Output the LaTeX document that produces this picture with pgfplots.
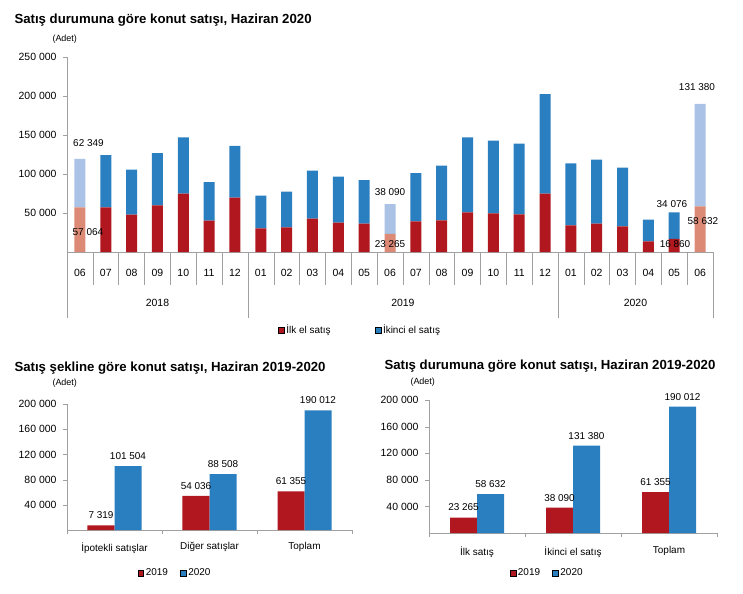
\documentclass[border=0pt]{standalone}
\usepackage{fontspec}
\setmainfont{Liberation Sans}
\usepackage{pgfplots}
\pgfplotsset{compat=1.18}
\usepackage{pgfplotstable}

\definecolor{ilk}{HTML}{B0171F}
\definecolor{ikinci}{HTML}{2A7FC1}
\definecolor{ilkacik}{HTML}{DC8A76}
\definecolor{ikinciacik}{HTML}{A9C2E6}
\definecolor{eksen}{HTML}{A0A0A0}

% aylik satislar: ilk el (r), ikinci el (b); haziran aylari ayri (lr, lb)
\pgfplotstableread{
x  r      lr     b       lb
0  0      57064  0       62349
1  57200  0      67100   0
2  47800  0      57700   0
3  59800  0      67000   0
4  74700  0      72300   0
5  40100  0      49600   0
6  69600  0      66600   0
7  30300  0      41900   0
8  31600  0      45700   0
9  42700  0      61500   0
10 37600  0      58900   0
11 36300  0      55900   0
12 0      23265  0       38090
13 39300  0      61900   0
14 40600  0      70000   0
15 50800  0      96200   0
16 49600  0      93100   0
17 48300  0      90500   0
18 74700  0      127800  0
19 34200  0      79400   0
20 36300  0      82100   0
21 32900  0      75200   0
22 13700  0      27700   0
23 16860  0      34076   0
24 0      58632  0       131380
}\aylik

\pgfplotstableread{
x y2019 y2020
0 7319  101504
1 54036 88508
2 61355 190012
}\sekil

\pgfplotstableread{
x y2019 y2020
0 23265 58632
1 38090 131380
2 61355 190012
}\durum

\pgfplotsset{
  konut/.style={
    scale only axis,
    axis x line*=bottom, axis y line*=left,
    axis line style={eksen},
    tick align=outside,
    major tick length=4bp,
    ytick style={eksen},
    xtick style={draw=none},
    scaled y ticks=false,
    ymin=0,
    /pgf/number format/.cd, fixed, precision=0, 1000 sep={\ }, assume math mode=true, /pgfplots/.cd,
    tick label style={font=\fontsize{10.5}{12}\selectfont},
    yticklabel style={xshift=-3bp},
    legend style={draw=none, fill=none, font=\fontsize{10}{12}\selectfont, anchor=center},
    legend image post style={xscale=0.35},
    legend columns=2,
    clip=false,
  },
  ustgeo/.style={
    scale only axis, at={(67bp,-252bp)}, anchor=south west,
    width=646bp, height=195bp,
    xmin=-0.5, xmax=24.5, ymin=0, ymax=250000,
    ybar stacked, bar width=11bp,
  },
}

\begin{document}
\begin{tikzpicture}
\useasboundingbox (0,0) rectangle (743bp,-594bp);

% ---------- ust grafik ----------
\node[anchor=west, font=\bfseries\fontsize{13.25}{15}\selectfont] at (11bp,-20bp) {Satış durumuna göre konut satışı, Haziran 2020};
\node[anchor=west, font=\fontsize{9}{11}\selectfont] at (49bp,-39bp) {(Adet)};

\begin{axis}[konut, ustgeo,
  ytick={50000,100000,150000,200000,250000},
  xtick={0,...,24},
  xticklabels={06,07,08,09,10,11,12,01,02,03,04,05,06,07,08,09,10,11,12,01,02,03,04,05,06},
  xticklabel style={yshift=-10bp},
  legend style={at={(0.4536,-0.4)}, /tikz/every even column/.append style={column sep=42bp}},
]
\addplot[fill=ilk, draw=none, area legend] table[x=x, y=r] {\aylik};
\addlegendentry{İlk el satış}
\addplot[fill=ikinci, draw=none, area legend] table[x=x, y=b] {\aylik};
\addlegendentry{İkinci el satış}

\draw[eksen] (axis cs:-0.5,0) -- ++(0bp,-66bp);
\draw[eksen] (axis cs:0.5,0) -- ++(0bp,-33bp);
\draw[eksen] (axis cs:1.5,0) -- ++(0bp,-33bp);
\draw[eksen] (axis cs:2.5,0) -- ++(0bp,-33bp);
\draw[eksen] (axis cs:3.5,0) -- ++(0bp,-33bp);
\draw[eksen] (axis cs:4.5,0) -- ++(0bp,-33bp);
\draw[eksen] (axis cs:5.5,0) -- ++(0bp,-33bp);
\draw[eksen] (axis cs:6.5,0) -- ++(0bp,-66bp);
\draw[eksen] (axis cs:7.5,0) -- ++(0bp,-33bp);
\draw[eksen] (axis cs:8.5,0) -- ++(0bp,-33bp);
\draw[eksen] (axis cs:9.5,0) -- ++(0bp,-33bp);
\draw[eksen] (axis cs:10.5,0) -- ++(0bp,-33bp);
\draw[eksen] (axis cs:11.5,0) -- ++(0bp,-33bp);
\draw[eksen] (axis cs:12.5,0) -- ++(0bp,-33bp);
\draw[eksen] (axis cs:13.5,0) -- ++(0bp,-33bp);
\draw[eksen] (axis cs:14.5,0) -- ++(0bp,-33bp);
\draw[eksen] (axis cs:15.5,0) -- ++(0bp,-33bp);
\draw[eksen] (axis cs:16.5,0) -- ++(0bp,-33bp);
\draw[eksen] (axis cs:17.5,0) -- ++(0bp,-33bp);
\draw[eksen] (axis cs:18.5,0) -- ++(0bp,-66bp);
\draw[eksen] (axis cs:19.5,0) -- ++(0bp,-33bp);
\draw[eksen] (axis cs:20.5,0) -- ++(0bp,-33bp);
\draw[eksen] (axis cs:21.5,0) -- ++(0bp,-33bp);
\draw[eksen] (axis cs:22.5,0) -- ++(0bp,-33bp);
\draw[eksen] (axis cs:23.5,0) -- ++(0bp,-33bp);
\draw[eksen] (axis cs:24.5,0) -- ++(0bp,-66bp);
\node[font=\fontsize{10.5}{12}\selectfont] at (axis cs:3,0) [yshift=-51bp] {2018};
\node[font=\fontsize{10.5}{12}\selectfont] at (axis cs:12.5,0) [yshift=-51bp] {2019};
\node[font=\fontsize{10.5}{12}\selectfont] at (axis cs:21.5,0) [yshift=-51bp] {2020};
\end{axis}

% haziran aylari (acik renkler)
\begin{axis}[ustgeo, hide axis, clip=false]
\addplot[fill=ilkacik, draw=none] table[x=x, y=lr] {\aylik};
\addplot[fill=ikinciacik, draw=none] table[x=x, y=lb] {\aylik};
\end{axis}

% veri etiketleri (cubuklarin ustunde)
\begin{axis}[ustgeo, hide axis, clip=false]
\node[font=\fontsize{10}{12}\selectfont] at (axis cs:0.33,139700) {62\ 349};
\node[font=\fontsize{10}{12}\selectfont] at (axis cs:0.31,25600) {57\ 064};
\node[font=\fontsize{10}{12}\selectfont] at (axis cs:12.0,76900) {38\ 090};
\node[font=\fontsize{10}{12}\selectfont] at (axis cs:12.0,10250) {23\ 265};
\node[font=\fontsize{10}{12}\selectfont] at (axis cs:23.88,211500) {131\ 380};
\node[font=\fontsize{10}{12}\selectfont] at (axis cs:24.11,39700) {58\ 632};
\node[font=\fontsize{10}{12}\selectfont] at (axis cs:22.91,61500) {34\ 076};
\node[font=\fontsize{10}{12}\selectfont] at (axis cs:23.03,10250) {16\ 860};
\end{axis}

% ---------- sol alt grafik ----------
\node[anchor=west, font=\bfseries\fontsize{13.25}{15}\selectfont] at (11bp,-368bp) {Satış şekline göre konut satışı, Haziran 2019-2020};
\node[anchor=west, font=\fontsize{9}{11}\selectfont] at (49bp,-383bp) {(Adet)};

\begin{axis}[konut,
  at={(67bp,-530bp)}, anchor=south west,
  width=285bp, height=126bp,
  xmin=-0.5, xmax=2.5, ymax=200000,
  ytick={40000,80000,120000,160000,200000},
  xtick={0,1,2},
  xticklabels={İpotekli satışlar, Diğer satışlar, Toplam},
  xticklabel style={font=\fontsize{10}{12}\selectfont, yshift=-5bp},
  ybar=0pt, bar width=27bp,
  nodes near coords,
  nodes near coords style={font=\fontsize{10}{12}\selectfont, yshift=3bp},
  legend style={at={(0.379,-0.341)}, /tikz/every even column/.append style={column sep=10bp}},
]
\addplot[fill=ilk, draw=none, area legend] table[x=x, y=y2019] {\sekil};
\addlegendentry{2019}
\addplot[fill=ikinci, draw=none, area legend] table[x=x, y=y2020] {\sekil};
\addlegendentry{2020}
\draw[eksen] (axis cs:-0.5,0) -- ++(0bp,-4bp);
\draw[eksen] (axis cs:0.5,0) -- ++(0bp,-4bp);
\draw[eksen] (axis cs:1.5,0) -- ++(0bp,-4bp);
\draw[eksen] (axis cs:2.5,0) -- ++(0bp,-4bp);
\end{axis}

% ---------- sag alt grafik ----------
\node[anchor=west, font=\bfseries\fontsize{13.25}{15}\selectfont] at (381bp,-366bp) {Satış durumuna göre konut satışı, Haziran 2019-2020};
\node[anchor=west, font=\fontsize{9}{11}\selectfont] at (407bp,-382bp) {(Adet)};

\begin{axis}[konut,
  at={(429bp,-533bp)}, anchor=south west,
  width=288bp, height=133bp,
  xmin=-0.5, xmax=2.5, ymax=200000,
  ytick={40000,80000,120000,160000,200000},
  xtick={0,1,2},
  xticklabels={İlk satış, İkinci el satış, Toplam},
  xticklabel style={font=\fontsize{10}{12}\selectfont, yshift=-6bp},
  ybar=0pt, bar width=27bp,
  nodes near coords,
  nodes near coords style={font=\fontsize{10}{12}\selectfont, yshift=3bp},
  legend style={at={(0.41,-0.30)}, /tikz/every even column/.append style={column sep=10bp}},
]
\addplot[fill=ilk, draw=none, area legend] table[x=x, y=y2019] {\durum};
\addlegendentry{2019}
\addplot[fill=ikinci, draw=none, area legend] table[x=x, y=y2020] {\durum};
\addlegendentry{2020}
\draw[eksen] (axis cs:-0.5,0) -- ++(0bp,-4bp);
\draw[eksen] (axis cs:0.5,0) -- ++(0bp,-4bp);
\draw[eksen] (axis cs:1.5,0) -- ++(0bp,-4bp);
\draw[eksen] (axis cs:2.5,0) -- ++(0bp,-4bp);
\end{axis}
\end{tikzpicture}
\end{document}
